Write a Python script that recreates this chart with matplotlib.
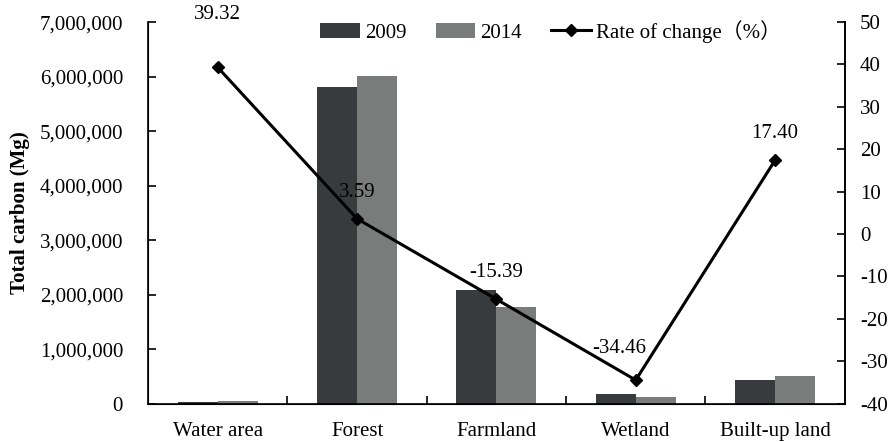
import numpy as np
import matplotlib.pyplot as plt
from matplotlib.ticker import FuncFormatter

categories = ["Water area", "Forest", "Farmland", "Wetland", "Built-up land"]
carbon_2009 = [30000, 5810000, 2090000, 175000, 435000]
carbon_2014 = [41800, 6020000, 1770000, 115000, 510000]
rate_change = [39.32, 3.59, -15.39, -34.46, 17.40]

plt.rcParams['font.family'] = ['Liberation Serif', 'Noto Sans CJK SC', 'DejaVu Serif']
plt.rcParams['font.size'] = 15
plt.rcParams['axes.unicode_minus'] = False

fig, ax = plt.subplots(figsize=(8.92, 4.42), dpi=100)
fig.subplots_adjust(left=0.166, right=0.947, top=0.95, bottom=0.087)

x = np.arange(len(categories))
w = 0.287
b1 = ax.bar(x - w / 2, carbon_2009, w, color='#383b3e', label='2009')
b2 = ax.bar(x + w / 2, carbon_2014, w, color='#7a7c7c', label='2014')

ax.set_xlim(-0.5, len(categories) - 0.5)
ax.set_ylim(0, 7000000)
ax.set_yticks(np.arange(0, 7000001, 1000000))
ax.yaxis.set_major_formatter(FuncFormatter(lambda v, p: f"{int(v):,}"))
ax.set_xticks(x)
ax.set_xticklabels(categories)
ax.set_xticks(np.arange(0.5, len(categories) - 0.5, 1), minor=True)
ax.tick_params(axis='x', which='major', length=0, pad=13)
ax.tick_params(axis='x', which='minor', direction='in', length=6, width=1.2)
ax.tick_params(axis='y', direction='in', length=6, width=1.2, pad=18)
ax.set_ylabel("Total carbon (Mg)", fontweight='bold', labelpad=7)
ax.spines['top'].set_visible(False)
for s in ['left', 'bottom', 'right']:
    ax.spines[s].set_linewidth(1.2)

ax2 = ax.twinx()
line, = ax2.plot(x, rate_change, color='black', lw=2.2, marker='D', ms=6,
                 label='Rate of change（%）')
ax2.set_ylim(-40, 50)
ax2.set_yticks(np.arange(-40, 51, 10))
ax2.tick_params(axis='y', direction='in', length=6, width=1.2, pad=11)
ax2.spines['top'].set_visible(False)
ax2.spines['right'].set_linewidth(1.2)

# label offsets in points (dx, dy)
offsets = [(0, 38), (0, 19), (0, 19), (-12, 23), (0, 19)]
for xi, r, (dx, dy) in zip(x, rate_change, offsets):
    ax2.annotate(f"{r:.2f}", (xi, r), xytext=(dx, dy), textcoords='offset points',
                 ha='center', va='center')

handles = [b1, b2, line]
ax.legend(handles, [h.get_label() for h in handles], loc='upper center',
          bbox_to_anchor=(0.578, 1.055), ncol=3, frameon=False,
          handlelength=1.9, columnspacing=1.4, handletextpad=0.25)

plt.savefig("out.png", dpi=100)
